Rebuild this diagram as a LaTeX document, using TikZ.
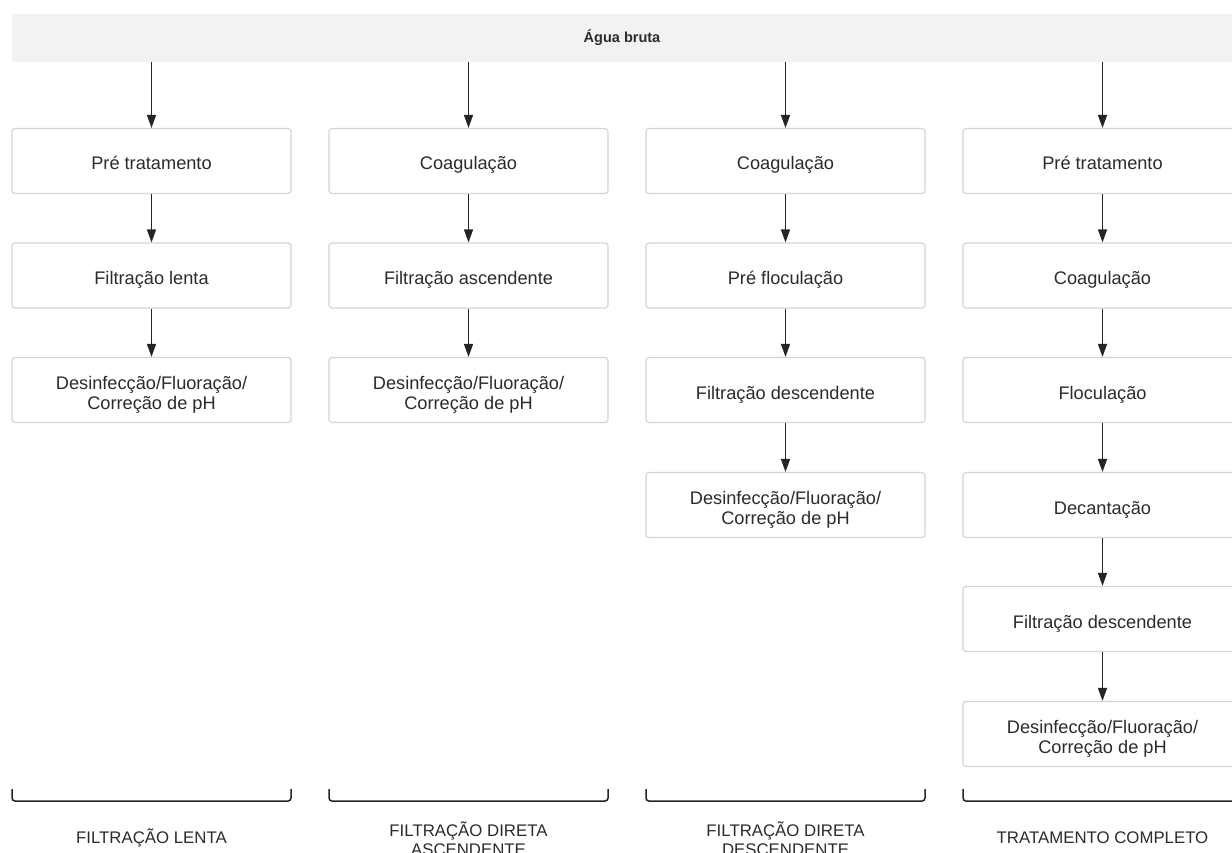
\documentclass[tikz,border=0pt]{standalone}
\usepackage{fontspec}
\setmainfont{Liberation Sans}
\usetikzlibrary{arrows.meta}
\definecolor{txt}{HTML}{2B2B2B}
\definecolor{barfill}{HTML}{F1F2F4}
\definecolor{boxline}{HTML}{D4D4D4}
\definecolor{arrcol}{HTML}{22252A}
\newcommand{\topstrut}{\rule{0pt}{22.5pt}}
\tikzset{
  procbase/.style={draw=boxline, line width=1.2pt, fill=white, rounded corners=3pt,
    minimum width=279pt, minimum height=65pt, inner sep=0pt,
    text=txt, font=\fontsize{18.2}{20.5}\selectfont},
  procbox/.style={procbase, text height=21pt, text depth=3pt},
  procbox2/.style={procbase, align=center},
  arr/.style={draw=arrcol, line width=1.4pt, -{Triangle[width=9pt,length=13pt]}},
  brk/.style={draw=arrcol, line width=1.5pt, rounded corners=3pt},
  lbl/.style={align=center, text=txt, inner sep=0pt, font=\fontsize{16.8}{19.5}\selectfont}
}
\begin{document}
\begin{tikzpicture}[x=1pt,y=-1pt]
\useasboundingbox (0,0) rectangle (1232,853);
\clip (0,0) rectangle (1232,853);
\fill[white] (0,0) rectangle (1232,853);
\node[fill=barfill, rounded corners=3pt, minimum width=1240pt, minimum height=48pt, inner sep=0pt,
  anchor=north west, text=txt] (bar) at (12,14) {};
\node[text=txt, font=\bfseries\fontsize{14.5}{18}\selectfont] (bartxt) at (622,38) {Água bruta};
% column 1
\node[procbox] (a1) at (151.5,161) {Pré tratamento};
\node[procbox] (a2) at (151.5,275.5) {Filtração lenta};
\node[procbox2] (a3) at (151.5,390) {\topstrut Desinfecção/Fluoração/\\Correção de pH};
% column 2
\node[procbox] (b1) at (468.5,161) {Coagulação};
\node[procbox] (b2) at (468.5,275.5) {Filtração ascendente};
\node[procbox2] (b3) at (468.5,390) {\topstrut Desinfecção/Fluoração/\\Correção de pH};
% column 3
\node[procbox] (c1) at (785.5,161) {Coagulação};
\node[procbox] (c2) at (785.5,275.5) {Pré floculação};
\node[procbox] (c3) at (785.5,390) {Filtração descendente};
\node[procbox2] (c4) at (785.5,505) {\topstrut Desinfecção/Fluoração/\\Correção de pH};
% column 4
\node[procbox] (d1) at (1102.5,161) {Pré tratamento};
\node[procbox] (d2) at (1102.5,275.5) {Coagulação};
\node[procbox] (d3) at (1102.5,390) {Floculação};
\node[procbox] (d4) at (1102.5,505) {Decantação};
\node[procbox] (d5) at (1102.5,619) {Filtração descendente};
\node[procbox2] (d6) at (1102.5,734) {\topstrut Desinfecção/Fluoração/\\Correção de pH};
% arrows
\foreach \n in {a1,b1,c1,d1}{
  \draw[arr] (bar.south -| \n.north) -- (\n.north);
}
\draw[arr] (a1) -- (a2); \draw[arr] (a2) -- (a3);
\draw[arr] (b1) -- (b2); \draw[arr] (b2) -- (b3);
\draw[arr] (c1) -- (c2); \draw[arr] (c2) -- (c3); \draw[arr] (c3) -- (c4);
\draw[arr] (d1) -- (d2); \draw[arr] (d2) -- (d3); \draw[arr] (d3) -- (d4);
\draw[arr] (d4) -- (d5); \draw[arr] (d5) -- (d6);
% brackets
\foreach \x/\nm in {12/k1,329/k2,646/k3,963/k4}{
  \coordinate (\nm l) at (\x,789);
  \coordinate (\nm r) at (\x+279,789);
  \draw[brk] (\nm l) -- ++(0,12) -| (\nm r);
}
% labels
\node[lbl] (l1) at (151.5,838) {FILTRAÇÃO LENTA};
\node[lbl] (l2) at (468.5,838.5) {FILTRAÇÃO DIRETA\\ASCENDENTE};
\node[lbl] (l3) at (785.5,838.5) {FILTRAÇÃO DIRETA\\DESCENDENTE};
\node[lbl] (l4) at (1102.5,838) {TRATAMENTO COMPLETO};
\end{tikzpicture}
\end{document}
